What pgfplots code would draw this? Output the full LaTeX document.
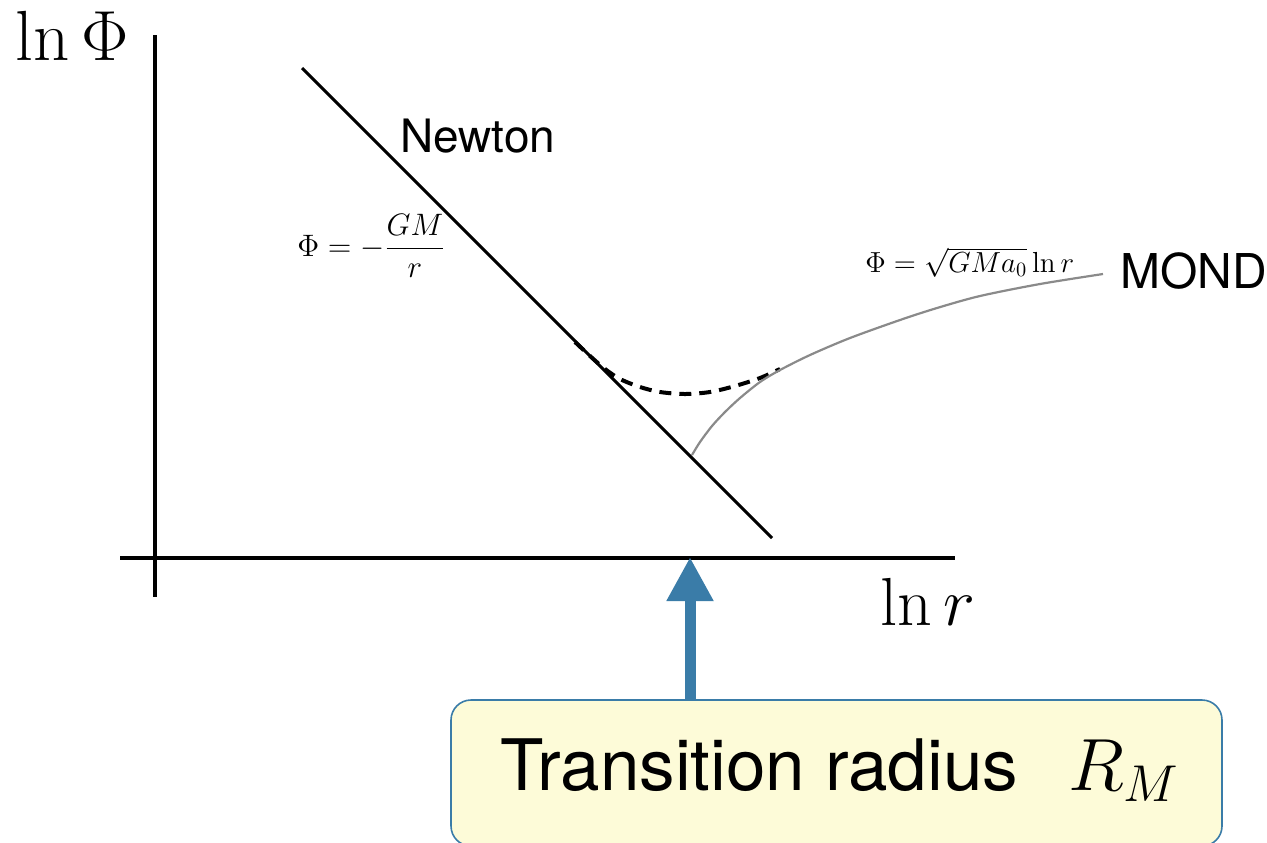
\RequirePackage{fix-cm}
\documentclass[border=0pt]{standalone}
\usepackage{pgfplots}
\pgfplotsset{compat=1.18}
\usepackage[no-math]{fontspec}
\setmainfont{TeX Gyre Heros}
\usetikzlibrary{arrows.meta}
\definecolor{arrowblue}{HTML}{3A7CA8}
\definecolor{boxfill}{HTML}{FDFBD8}
\definecolor{curvegray}{HTML}{8A8A8A}
\begin{document}
\begin{tikzpicture}
\begin{axis}[
  width=633.5pt, height=421pt, scale only axis,
  xmin=0, xmax=1267, ymin=0, ymax=842, y dir=reverse,
  axis lines=none, clip=false,
]
% axes
\addplot[black, line width=1.8pt] coordinates {(155,35) (155,597)};
\addplot[black, line width=1.8pt] coordinates {(120,558) (955,558)};
% Newton line
\addplot[black, line width=1.5pt] coordinates {(302,68) (772,538)};
% transition (dashed)
\addplot[black, line width=2pt, dash pattern=on 6pt off 4pt, smooth] coordinates {
 (575,342) (590,356) (605,369) (620,379) (640,387) (660,392) (685,394) (710,392) (735,386) (760,378) (780,369)};
% MOND curve
\addplot[curvegray, line width=1.1pt, smooth] coordinates {
 (692,455) (700,442) (712,426) (725,412) (740,398) (760,382) (780,370) (810,355) (850,338) (900,320) (937,308) (980,296) (1040,284) (1103,274)};
% arrow
\addplot[arrowblue, line width=5.5pt, -{Triangle[width=22pt,length=22pt]}] coordinates {(690,702) (690,557)};
% box
\draw[arrowblue, line width=0.8pt, fill=boxfill, rounded corners=10pt] (axis cs:451,700) rectangle (axis cs:1222,846);
\node[anchor=base west, inner sep=0pt, font=\fontsize{35.5}{40}\selectfont] at (axis cs:500,790) {Transition radius};
\node[anchor=base west, inner sep=0pt, font=\fontsize{37}{40}\selectfont] at (axis cs:1068,790) {$R_M$};
% labels
\node[anchor=base west, inner sep=0pt, font=\fontsize{35.5}{40}\selectfont] at (axis cs:15,60) {$\ln\Phi$};
\node[anchor=base west, inner sep=0pt, font=\fontsize{34}{38}\selectfont] at (axis cs:880,625) {$\ln r$};
\node[anchor=base west, inner sep=0pt, font=\fontsize{23}{26}\selectfont] at (axis cs:400,152) {Newton};
\node[anchor=base west, inner sep=0pt, font=\fontsize{24}{28}\selectfont] at (axis cs:1120,288) {MOND};
\node[anchor=west, inner sep=0pt, font=\fontsize{15.5}{18}\selectfont] at (axis cs:297,246) {$\displaystyle\Phi=-\frac{GM}{r}$};
\node[anchor=base west, inner sep=0pt, font=\fontsize{14.5}{17}\selectfont] at (axis cs:865,272) {$\Phi=\sqrt{GMa_0}\ln r$};
\end{axis}
\pgfresetboundingbox
\useasboundingbox (current axis.south west) rectangle (current axis.north east);
\end{tikzpicture}
\end{document}
